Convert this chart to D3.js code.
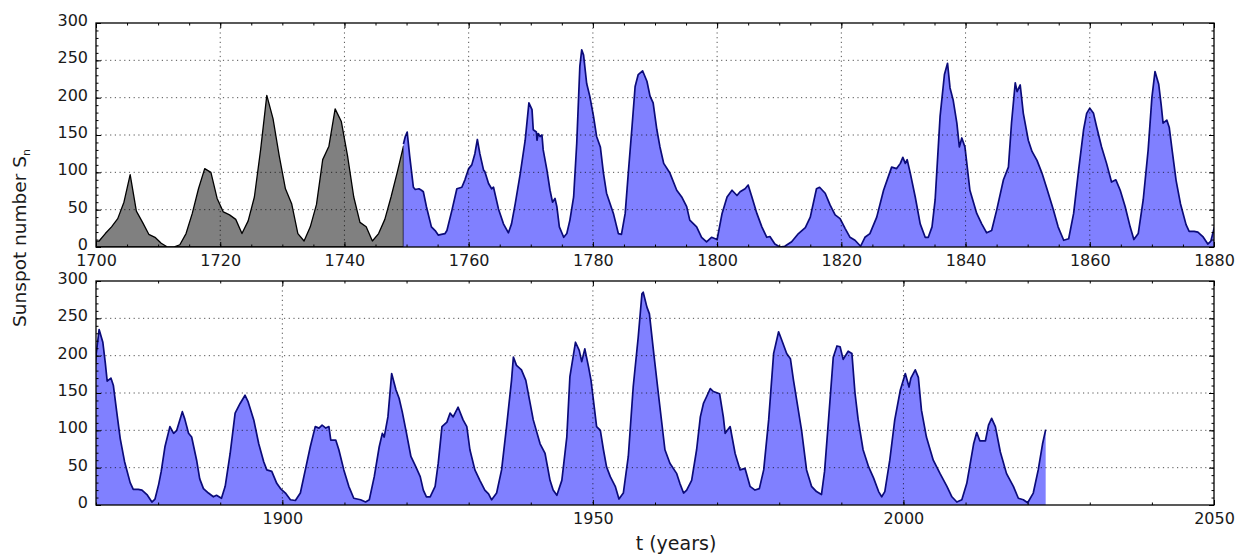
<!DOCTYPE html>
<html>
<head>
<meta charset="utf-8">
<script src="https://cdn.jsdelivr.net/npm/d3@7"></script>
<style>
  body { margin: 0; background: #fff; }
  svg { font-family: "DejaVu Sans", sans-serif; }
  .tick text { fill: #1a1a1a; }
</style>
</head>
<body>
<svg id="chart" width="1240" height="554"></svg>
<script>
// yearly mean sunspot numbers 1700-1749 (gray part), plotted at mid-year
const yearlyStart = 1700;
const yearlyValues = [8, 18, 27, 38, 60, 97, 48, 33, 17, 13,
  5, 0, 0, 3, 18, 45, 78, 105, 100, 65,
  47, 43, 37, 18, 35, 67, 130, 203, 172, 122,
  78, 58, 18, 8, 27, 57, 117, 135, 185, 168,
  122, 67, 33, 27, 8, 18, 37, 67, 100, 135];

// smoothed monthly sunspot number (blue part), [year, value]
const smoothed = [
  [1749.5, 138], [1749.8, 148], [1750.1, 154], [1750.5, 122], [1751.1, 80], [1751.4, 77], [1752.0, 78],
  [1752.4, 76], [1752.7, 74], [1753.2, 54], [1754.0, 27], [1754.6, 22], [1755.1, 16], [1755.6, 17],
  [1756.2, 18], [1756.5, 22], [1757.3, 49], [1758.1, 78], [1758.9, 80], [1759.4, 90], [1760.0, 105],
  [1760.5, 110], [1761.0, 125], [1761.4, 144], [1761.8, 125], [1762.4, 103], [1762.6, 101], [1763.2, 85],
  [1763.7, 78], [1764.0, 80], [1764.8, 51], [1765.6, 31], [1766.4, 19], [1766.9, 31], [1767.5, 58],
  [1768.3, 98], [1769.1, 143], [1769.7, 193], [1770.2, 184], [1770.4, 157], [1770.9, 154], [1771.0, 143],
  [1771.2, 152], [1771.5, 148], [1771.8, 150], [1772.0, 130], [1772.6, 103], [1773.1, 76], [1773.5, 60],
  [1773.9, 65], [1774.2, 54], [1774.6, 27], [1775.3, 13], [1775.8, 18], [1776.3, 36], [1776.9, 67],
  [1777.4, 139], [1777.9, 242], [1778.2, 264], [1778.5, 257], [1779.0, 219], [1779.5, 202], [1780.1, 175],
  [1780.6, 148], [1781.2, 134], [1781.7, 99], [1782.2, 72], [1783.3, 45], [1784.1, 18], [1784.6, 17],
  [1785.2, 45], [1785.7, 99], [1786.3, 161], [1786.8, 215], [1787.3, 231], [1788.0, 236], [1788.7, 222],
  [1789.2, 202], [1789.7, 193], [1790.3, 157], [1790.8, 134], [1791.4, 112], [1792.4, 99], [1793.5, 76],
  [1794.3, 67], [1795.1, 54], [1795.6, 36], [1796.7, 27], [1797.5, 13], [1798.3, 7], [1799.1, 13],
  [1800.0, 10], [1800.8, 45], [1801.6, 67], [1802.4, 76], [1803.2, 69], [1803.7, 74], [1804.5, 78],
  [1805.0, 83], [1805.6, 67], [1806.4, 45], [1807.2, 27], [1808.0, 13], [1808.5, 14], [1809.3, 4],
  [1810.1, 0], [1810.9, 1], [1812.0, 7], [1813.1, 18], [1814.2, 26], [1815.0, 40], [1816.0, 78],
  [1816.5, 80], [1817.4, 72], [1818.2, 56], [1819.0, 43], [1819.8, 38], [1820.6, 25], [1821.4, 13],
  [1822.2, 9], [1823.1, 1], [1823.8, 13], [1824.6, 18], [1825.7, 40], [1826.8, 76], [1828.1, 107],
  [1828.9, 105], [1829.5, 112], [1829.9, 120], [1830.3, 112], [1830.6, 117], [1831.1, 99], [1831.9, 67],
  [1832.7, 31], [1833.5, 13], [1834.0, 13], [1834.6, 27], [1835.1, 63], [1835.9, 175], [1836.6, 231],
  [1837.1, 246], [1837.5, 213], [1838.0, 197], [1838.6, 166], [1839.0, 134], [1839.4, 146], [1839.9, 134],
  [1840.7, 76], [1841.8, 45], [1842.6, 31], [1843.4, 19], [1844.2, 22], [1845.0, 49], [1846.1, 90],
  [1846.9, 107], [1847.4, 166], [1848.0, 220], [1848.3, 208], [1848.8, 217], [1849.3, 179], [1850.1, 143],
  [1850.7, 128], [1851.5, 116], [1852.3, 99], [1853.1, 78], [1854.1, 51], [1854.9, 27], [1855.8, 9],
  [1856.6, 11], [1857.4, 45], [1858.2, 103], [1859.0, 157], [1859.5, 179], [1860.0, 186], [1860.6, 179],
  [1861.1, 161], [1861.9, 134], [1862.7, 112], [1863.5, 87], [1864.2, 90], [1864.9, 76], [1865.7, 54],
  [1866.5, 27], [1867.1, 10], [1867.8, 18], [1868.6, 63], [1869.4, 130], [1870.0, 200], [1870.5, 235],
  [1871.1, 218], [1871.5, 190], [1871.8, 166], [1872.4, 170], [1872.8, 160], [1873.3, 127], [1873.9, 89],
  [1874.6, 58], [1875.5, 30], [1876.0, 21], [1876.8, 21], [1877.4, 20], [1878.2, 14], [1879.0, 4],
  [1879.5, 8], [1880.1, 28], [1880.5, 45], [1881.1, 78], [1881.9, 105], [1882.5, 96], [1883.0, 100],
  [1883.9, 125], [1884.3, 115], [1884.9, 96], [1885.4, 91], [1886.2, 60], [1886.7, 35], [1887.3, 22],
  [1888.1, 16], [1888.9, 11], [1889.4, 13], [1890.2, 9], [1890.8, 25], [1891.6, 69], [1892.4, 123],
  [1893.2, 136], [1894.0, 147], [1894.5, 138], [1895.4, 114], [1896.2, 82], [1897.0, 58], [1897.5, 47],
  [1898.3, 45], [1899.1, 29], [1899.7, 22], [1900.5, 16], [1901.3, 7], [1902.1, 6], [1902.9, 16],
  [1903.7, 47], [1904.5, 78], [1905.3, 105], [1905.9, 103], [1906.4, 107], [1907.0, 103], [1907.5, 105],
  [1907.8, 87], [1908.6, 87], [1909.1, 74], [1909.9, 47], [1910.7, 25], [1911.5, 9], [1912.6, 7],
  [1913.4, 4], [1914.0, 7], [1914.8, 38], [1915.6, 78], [1916.1, 96], [1916.4, 91], [1917.0, 118],
  [1917.6, 176], [1918.3, 154], [1918.8, 143], [1919.3, 125], [1919.9, 100], [1920.7, 65], [1921.5, 51],
  [1922.2, 38], [1922.7, 20], [1923.2, 11], [1923.8, 11], [1924.6, 25], [1925.1, 56], [1925.7, 105],
  [1926.5, 111], [1927.0, 123], [1927.5, 118], [1928.3, 131], [1929.1, 114], [1929.7, 105], [1930.2, 74],
  [1931.0, 47], [1931.8, 33], [1932.6, 20], [1933.2, 15], [1933.7, 7], [1934.5, 16], [1935.3, 47],
  [1936.1, 105], [1936.9, 167], [1937.2, 198], [1937.7, 187], [1938.5, 181], [1939.2, 167], [1939.9, 136],
  [1940.4, 114], [1941.5, 82], [1942.3, 69], [1943.1, 33], [1943.6, 20], [1944.2, 13], [1945.0, 33],
  [1945.8, 91], [1946.3, 172], [1947.2, 218], [1947.8, 207], [1948.2, 192], [1948.7, 209], [1949.3, 185],
  [1949.7, 167], [1950.6, 105], [1951.2, 100], [1951.7, 74], [1952.2, 51], [1952.8, 38], [1953.6, 25],
  [1954.2, 8], [1954.9, 16], [1955.7, 65], [1956.5, 159], [1957.3, 225], [1957.9, 283], [1958.1, 285],
  [1958.7, 265], [1959.1, 256], [1959.8, 203], [1960.6, 145], [1961.6, 74], [1962.4, 56], [1963.5, 42],
  [1964.0, 29], [1964.6, 16], [1965.1, 20], [1965.9, 33], [1966.7, 74], [1967.3, 118], [1967.8, 136],
  [1968.3, 145], [1968.9, 156], [1969.4, 152], [1970.4, 149], [1971.0, 118], [1971.3, 96], [1972.1, 105],
  [1972.9, 69], [1973.7, 47], [1974.5, 49], [1975.3, 25], [1976.1, 20], [1976.8, 22], [1977.5, 47],
  [1978.3, 114], [1979.1, 203], [1979.9, 232], [1980.4, 221], [1981.2, 203], [1981.8, 196], [1982.3, 167],
  [1983.6, 100], [1984.4, 47], [1985.2, 25], [1986.0, 18], [1986.8, 14], [1987.3, 45], [1987.9, 110],
  [1988.7, 198], [1989.3, 213], [1989.8, 212], [1990.3, 195], [1991.1, 206], [1991.7, 203], [1992.2, 150],
  [1992.7, 115], [1993.5, 74], [1994.4, 51], [1995.2, 36], [1996.0, 18], [1996.5, 11], [1997.0, 18],
  [1997.8, 60], [1998.6, 114], [1999.5, 154], [2000.3, 176], [2000.9, 158], [2001.2, 170], [2001.9, 181],
  [2002.4, 171], [2002.9, 127], [2003.7, 91], [2004.8, 60], [2005.9, 42], [2007.0, 25], [2007.8, 11],
  [2008.6, 4], [2009.4, 7], [2010.2, 29], [2011.3, 82], [2011.8, 97], [2012.3, 86], [2013.2, 86],
  [2013.7, 107], [2014.2, 116], [2014.8, 105], [2015.6, 71], [2016.6, 42], [2017.7, 25], [2018.5, 9],
  [2019.3, 7], [2020.0, 3], [2020.9, 16], [2021.7, 47], [2022.4, 82], [2022.9, 101]
];

const yTicks = [0, 50, 100, 150, 200, 250, 300];
const topXTicks = [1700, 1720, 1740, 1760, 1780, 1800, 1820, 1840, 1860, 1880];
const bottomXTicks = [1900, 1950, 2000, 2050];

const svg = d3.select("#chart");
const left = 96, right = 1214;

const panels = [
  {id: "top", domain: [1700, 1880], top: 23, bottom: 247, major: topXTicks, minorStep: 5, showYearly: true},
  {id: "bot", domain: [1870, 2050], top: 281, bottom: 505, major: bottomXTicks, minorStep: 10, showYearly: false}
];

panels.forEach(p => {
  const x = d3.scaleLinear().domain(p.domain).range([left, right]);
  const y = d3.scaleLinear().domain([0, 300]).range([p.bottom, p.top]);
  const g = svg.append("g");

  g.append("clipPath").attr("id", "clip-" + p.id)
    .append("rect").attr("x", left).attr("y", p.top)
    .attr("width", right - left).attr("height", p.bottom - p.top);

  const plot = g.append("g").attr("clip-path", "url(#clip-" + p.id + ")");

  if (p.showYearly) {
    const yearly = yearlyValues.map((v, i) => [yearlyStart + i + 0.5, v]);
    // start the gray polygon on the left edge
    yearly.unshift([yearlyStart, yearlyValues[0]]);
    plot.append("path").datum(yearly)
      .attr("fill", "#808080")
      .attr("stroke", "#000")
      .attr("stroke-width", 1.3)
      .attr("stroke-linejoin", "round")
      .attr("d", d3.area().x(d => x(d[0])).y0(y(0)).y1(d => y(d[1])));
  }

  plot.append("path").datum(smoothed)
    .attr("fill", "#8080ff")
    .attr("d", d3.area().x(d => x(d[0])).y0(y(0)).y1(d => y(d[1])));
  plot.append("path").datum(smoothed)
    .attr("fill", "none")
    .attr("stroke", "#0b0b7a")
    .attr("stroke-width", 1.7)
    .attr("stroke-linejoin", "round")
    .attr("d", d3.line().x(d => x(d[0])).y(d => y(d[1])));

  // dotted grid over the data
  const grid = g.append("g").attr("stroke", "#000").attr("stroke-width", 0.9)
    .attr("stroke-dasharray", "1.2,3.5").attr("opacity", 0.75);
  p.major.filter(v => v > p.domain[0] && v < p.domain[1]).forEach(v => {
    grid.append("line").attr("x1", x(v)).attr("x2", x(v)).attr("y1", p.top).attr("y2", p.bottom);
  });
  yTicks.filter(v => v > 0 && v < 300).forEach(v => {
    grid.append("line").attr("x1", left).attr("x2", right).attr("y1", y(v)).attr("y2", y(v));
  });

  // ticks on all four sides, pointing inward
  const minorX = d3.range(Math.ceil(p.domain[0] / p.minorStep) * p.minorStep, p.domain[1] + 0.1, p.minorStep);
  const minorY = d3.range(0, 301, 10);
  const axes = [
    [d3.axisBottom(x).tickValues(p.major).tickSize(-5).tickPadding(8).tickFormat(d3.format("d")), `translate(0,${p.bottom})`],
    [d3.axisBottom(x).tickValues(minorX).tickSize(-2.5).tickFormat(""), `translate(0,${p.bottom})`],
    [d3.axisTop(x).tickValues(p.major).tickSize(-5).tickFormat(""), `translate(0,${p.top})`],
    [d3.axisTop(x).tickValues(minorX).tickSize(-2.5).tickFormat(""), `translate(0,${p.top})`],
    [d3.axisLeft(y).tickValues(yTicks).tickSize(-5).tickPadding(8), `translate(${left},0)`],
    [d3.axisLeft(y).tickValues(minorY).tickSize(-2.5).tickFormat(""), `translate(${left},0)`],
    [d3.axisRight(y).tickValues(yTicks).tickSize(-5).tickFormat(""), `translate(${right},0)`],
    [d3.axisRight(y).tickValues(minorY).tickSize(-2.5).tickFormat(""), `translate(${right},0)`]
  ];
  axes.forEach(([ax, tr], i) => {
    const a = g.append("g").attr("transform", tr).call(ax);
    a.select(".domain").remove();
    a.selectAll(".tick line").attr("stroke", "#000").attr("stroke-width", 1);
    a.selectAll(".tick text").attr("font-size", 16).attr("font-family", "DejaVu Sans");
    // y labels sit a little above their tick, as in the original
    if (i === 4) a.selectAll(".tick text").attr("dy", "0.15em");
  });

  g.append("rect").attr("x", left).attr("y", p.top)
    .attr("width", right - left).attr("height", p.bottom - p.top)
    .attr("fill", "none").attr("stroke", "#000").attr("stroke-width", 1.3);
});

// axis labels
const yl = svg.append("text")
  .attr("transform", "translate(26,238) rotate(-90)")
  .attr("text-anchor", "middle")
  .attr("font-size", 18.5)
  .attr("fill", "#1a1a1a");
yl.append("tspan").text("Sunspot number S");
yl.append("tspan").attr("font-size", 11).attr("dy", 4).text("n");

svg.append("text")
  .attr("x", 676).attr("y", 550)
  .attr("text-anchor", "middle")
  .attr("font-size", 19)
  .attr("fill", "#1a1a1a")
  .text("t (years)");
</script>
</body>
</html>
